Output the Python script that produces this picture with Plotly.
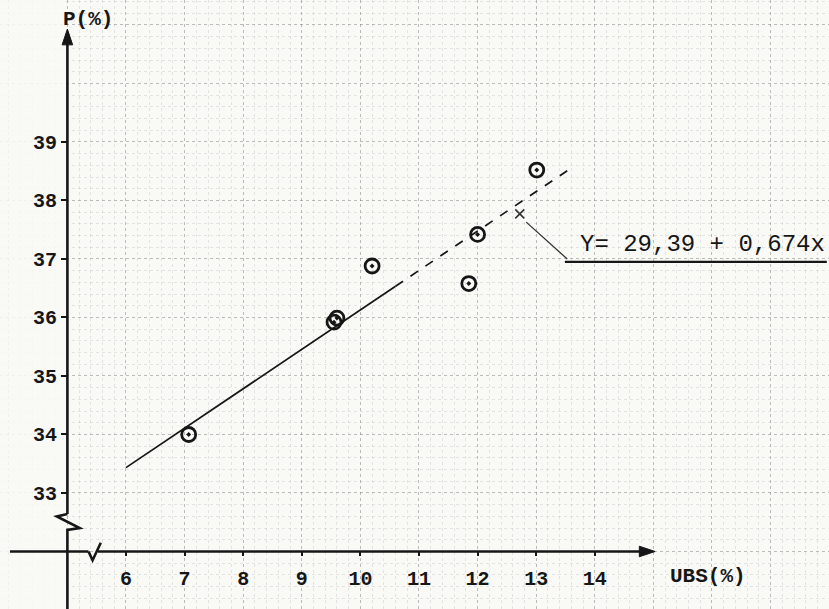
import plotly.graph_objects as go

# Measured points: UBS (%) against P (%)
ubs = [7.07, 9.55, 9.60, 10.20, 11.85, 12.00, 13.01]
p_pct = [34.00, 35.92, 35.99, 36.88, 36.58, 37.42, 38.52]

# Fitted regression  Y = 29,39 + 0,674 x
intercept = 29.39
slope = 0.674
fit_start, fit_solid_end, fit_end = 6.0, 10.6, 13.53

x_ticks = [6, 7, 8, 9, 10, 11, 12, 13, 14]
x_tick_text = ["6", "7", "8", "9", "10", "11", "12", "13", "14"]
y_ticks = [33, 34, 35, 36, 37, 38, 39]
y_tick_text = ["33", "34", "35", "36", "37", "38", "39"]

X_RANGE = [3.850, 17.997]
Y_RANGE = [31.017, 41.427]

PAPER = "#f9f9f6"
INK = "#161616"
FONT = "Liberation Mono"

fig = go.Figure()

# regression line: solid part, then dashed continuation
xs1 = [fit_start, fit_solid_end]
xs2 = [fit_solid_end, fit_end]
fig.add_trace(go.Scatter(x=xs1, y=[intercept + slope * v for v in xs1], mode="lines",
                         line=dict(color=INK, width=1.7), showlegend=False, hoverinfo="skip"))
fig.add_trace(go.Scatter(x=xs2, y=[intercept + slope * v for v in xs2], mode="lines",
                         line=dict(color=INK, width=1.7, dash="dash"), showlegend=False,
                         hoverinfo="skip"))

# observations
fig.add_trace(go.Scatter(x=ubs, y=p_pct, mode="markers",
                         marker=dict(symbol="circle-open-dot", size=14, color=INK,
                                     line=dict(width=2.8, color=INK)),
                         showlegend=False))

# small cross marking the line that the equation refers to
fig.add_trace(go.Scatter(x=[12.72], y=[37.77], mode="markers",
                         marker=dict(symbol="x-thin", size=9, line=dict(width=1.6, color="#333")),
                         showlegend=False, hoverinfo="skip"))

# invisible trace carrying the labelled axes
fig.add_trace(go.Scatter(x=[X_RANGE[0]], y=[Y_RANGE[0]], xaxis="x2", yaxis="y2",
                         mode="markers", marker=dict(opacity=0), showlegend=False,
                         hoverinfo="skip"))

shapes = []
# fade the grid left of the vertical axis
shapes.append(dict(type="rect", xref="x", yref="y", x0=X_RANGE[0], x1=4.93,
                   y0=Y_RANGE[0], y1=Y_RANGE[1], line=dict(width=0),
                   fillcolor=PAPER, opacity=0.85, layer="between"))

axis_line = dict(color=INK, width=2.6)
# vertical axis with break
shapes.append(dict(type="line", x0=5.0, x1=5.0, y0=32.64, y1=40.72, line=axis_line))
shapes.append(dict(type="path", path="M 5.0,32.64 L 4.82,32.60 L 5.21,32.40 L 5.0,32.37 L 5.0,31.0",
                   line=axis_line))
shapes.append(dict(type="path", path="M 4.91,40.66 L 5.0,40.93 L 5.09,40.66 Z",
                   line=dict(color=INK, width=1), fillcolor=INK))
# horizontal axis with break
shapes.append(dict(type="line", x0=4.02, x1=5.36, y0=32.0, y1=32.0, line=axis_line))
shapes.append(dict(type="path", path="M 5.36,32.0 L 5.43,31.85 L 5.57,32.15", line=axis_line))
shapes.append(dict(type="line", x0=5.52, x1=14.85, y0=32.0, y1=32.0, line=axis_line))
shapes.append(dict(type="path", path="M 14.76,31.91 L 15.03,32.0 L 14.76,32.09 Z",
                   line=dict(color=INK, width=1), fillcolor=INK))

# equation leader and underline
shapes.append(dict(type="line", x0=12.83, y0=37.63, x1=13.53, y1=37.0,
                   line=dict(color="#333", width=1.3)))
shapes.append(dict(type="line", x0=13.49, y0=36.95, x1=17.96, y1=36.95,
                   line=dict(color=INK, width=2.2)))

annotations = [
    dict(x=15.83, y=37.25, text="Y= 29,39 + 0,674x", showarrow=False,
         font=dict(family=FONT, size=24, color=INK)),
    dict(x=5.35, y=41.09, text="P(%)", showarrow=False,
         font=dict(family=FONT, size=21, color=INK, weight="bold")),
    dict(x=15.94, y=31.57, text="UBS(%)", showarrow=False,
         font=dict(family=FONT, size=21, color=INK, weight="bold")),
]

grid_axis = dict(range=X_RANGE, showgrid=True, dtick=1, tick0=0,
                 gridcolor="rgba(110,110,110,0.45)", griddash="dot", gridwidth=1,
                 minor=dict(dtick=0.2, showgrid=True, gridcolor="rgba(150,150,150,0.22)",
                            griddash="dot", gridwidth=1),
                 showticklabels=False, zeroline=False, showline=False, ticks="")

fig.update_layout(
    width=829, height=609,
    margin=dict(l=0, r=0, t=0, b=0),
    paper_bgcolor=PAPER, plot_bgcolor=PAPER,
    xaxis=dict(grid_axis, domain=[0, 1]),
    yaxis=dict(grid_axis, range=Y_RANGE, domain=[0, 1]),
    xaxis2=dict(range=X_RANGE, overlaying="x", anchor="free", position=1 - 551 / 609,
                tickvals=x_ticks, ticktext=x_tick_text, ticks="outside", ticklen=4,
                tickwidth=1.5, tickcolor=INK, showgrid=False, zeroline=False,
                showline=False, ticklabelstandoff=5,
                tickfont=dict(family=FONT, size=20, color=INK, weight="bold")),
    yaxis2=dict(range=Y_RANGE, overlaying="y", anchor="free", position=67 / 829,
                tickvals=y_ticks, ticktext=y_tick_text, ticks="outside", ticklen=6,
                tickwidth=1.5, tickcolor=INK, showgrid=False, zeroline=False,
                showline=False, ticklabelstandoff=0,
                tickfont=dict(family=FONT, size=20, color=INK, weight="bold")),
    shapes=shapes,
    annotations=annotations,
)

fig.write_html("out.html")
